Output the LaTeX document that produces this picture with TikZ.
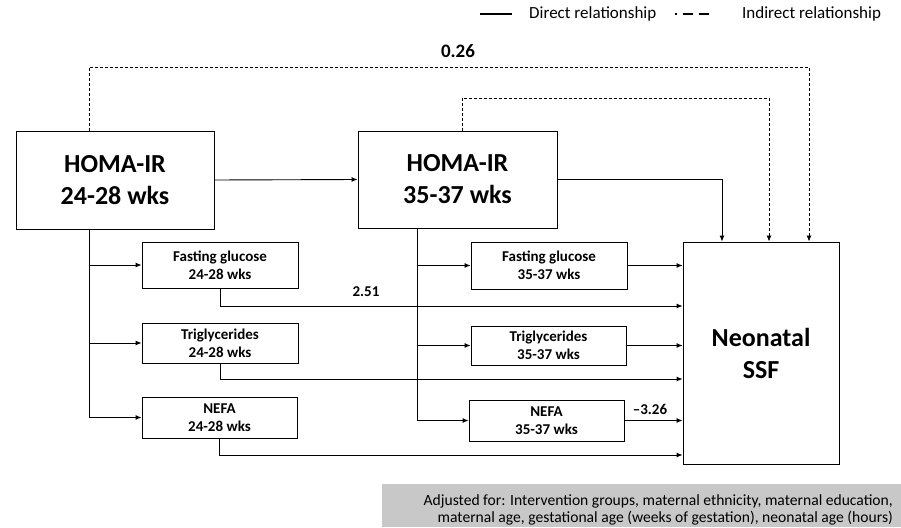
\documentclass[tikz,border=0pt]{standalone}
\usepackage{fontspec}
\setmainfont{Carlito}
\usetikzlibrary{arrows.meta,calc}
\definecolor{greyfill}{RGB}{200,200,200}
\begin{document}
\begin{tikzpicture}[x=1pt,y=-1pt,
  box/.style={draw,line width=0.9pt,inner sep=0pt,align=center,font=\bfseries},
  bigbox/.style={box,font=\fontsize{26}{32}\selectfont\bfseries},
  smallbox/.style={box,font=\fontsize{15}{18}\selectfont\bfseries},
  conn/.style={line width=0.9pt},
  arr/.style={conn,-{Latex[length=6pt,width=5pt]}},
  indirect/.style={arr,dash pattern=on 3pt off 2pt},
  coef/.style={font=\fontsize{15}{18}\selectfont\bfseries,inner sep=0pt}
]
\useasboundingbox (0,0) rectangle (901,527);

% main boxes
\node[bigbox,minimum width=198pt,minimum height=98pt] (h1) at (115,180) {HOMA-IR\\24-28 wks};
\node[bigbox,minimum width=199pt,minimum height=97pt] (h2) at (457.5,179.5) {HOMA-IR\\35-37 wks};
\node[bigbox,minimum width=156pt,minimum height=222pt] (ns) at (761,353) {Neonatal\\SSF};

% small boxes
\node[smallbox,minimum width=156pt,minimum height=46pt] (fg1) at (220,265) {Fasting glucose\\24-28 wks};
\node[smallbox,minimum width=156pt,minimum height=40pt] (tg1) at (220,343) {Triglycerides\\24-28 wks};
\node[smallbox,minimum width=155pt,minimum height=41pt] (nf1) at (219.5,417.5) {NEFA\\24-28 wks};
\node[smallbox,minimum width=156pt,minimum height=47pt] (fg2) at (549,265.5) {Fasting glucose\\35-37 wks};
\node[smallbox,minimum width=155pt,minimum height=39pt] (tg2) at (548.5,345.5) {Triglycerides\\35-37 wks};
\node[smallbox,minimum width=155pt,minimum height=41pt] (nf2) at (546.5,420.5) {NEFA\\35-37 wks};

% helper coordinates
\coordinate (x1) at (89,0);
\coordinate (x2) at (417,0);
\coordinate (xd2) at (462,0);
\coordinate (xs) at (722,0);
\coordinate (xi) at (769,0);
\coordinate (xo) at (809,0);
\coordinate (yo) at (0,67);
\coordinate (yi) at (0,98);

% direct connectors
\draw[arr] (h1.east) -- (h2.west);
\draw[arr] (h1.south -| x1) |- (fg1.west);
\draw[arr] (h1.south -| x1) |- (tg1.west);
\draw[arr] (h1.south -| x1) |- (nf1.west);
\draw[arr] (h2.south -| x2) |- (fg2.west);
\draw[arr] (h2.south -| x2) |- (tg2.west);
\draw[arr] (h2.south -| x2) |- (nf2.west);
\draw[arr] (h2.east) -| (ns.north -| xs);
\draw[arr] (fg2.east) -- (fg2.east -| ns.west);
\draw[arr] (tg2.east) -- (tg2.east -| ns.west);
\draw[arr] (nf2.east) -- (nf2.east -| ns.west);
\draw[arr] (fg1.south) |- (ns.west |- 0,306);
\draw[arr] (tg1.south) |- (ns.west |- 0,379);
\draw[arr] (nf1.south) |- (ns.west |- 0,455);

% indirect connectors
\draw[indirect] (h1.north -| x1) -- (x1 |- yo) -| (ns.north -| xo);
\draw[indirect] (h2.north -| xd2) -- (xd2 |- yi) -| (ns.north -| xi);

% coefficients
\node[coef,font=\fontsize{19}{22}\selectfont\bfseries] (c1) at (458,51) {0.26};
\node[coef] (c2) at (366,292) {2.51};
\node[coef] (c3) at (650,409) {–3.26};

% legend
\coordinate (ls1) at (480,14);
\coordinate (ls2) at (512,14);
\draw[line width=1.8pt] (ls1) -- (ls2);
\node[anchor=west,inner sep=0pt,font=\fontsize{17}{20}\selectfont] (lt1) at (529,14) {Direct relationship};
\coordinate (ld1) at (675,14);
\coordinate (ld2) at (713,14);
\draw[line width=1.8pt,dash pattern=on 1.5pt off 6pt on 10pt off 6pt on 10pt off 20pt] (ld1) -- (ld2);
\node[anchor=west,inner sep=0pt,font=\fontsize{17}{20}\selectfont] (lt2) at (742,14) {Indirect relationship};

% adjustment box
\fill[greyfill] (382,484) rectangle (901,527);
\node[anchor=east,inner sep=0pt,align=right,font=\fontsize{15.6}{16.5}\selectfont] (adj) at (893,510)
  {Adjusted for: Intervention groups, maternal ethnicity, maternal education,\\
   maternal age, gestational age (weeks of gestation), neonatal age (hours)};
\end{tikzpicture}
\end{document}
